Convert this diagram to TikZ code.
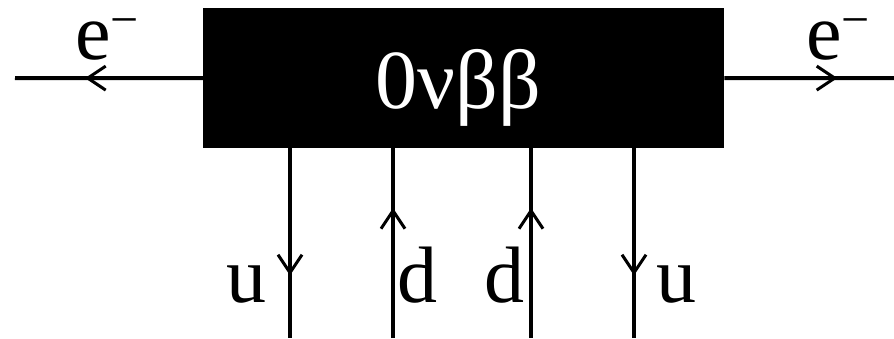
\documentclass[tikz,border=0pt]{standalone}
\usepackage{fontspec}
\setmainfont{Liberation Serif}
\newfontfamily\tnr{Liberation Serif}
\usetikzlibrary{arrows.meta,decorations.markings}
\newcommand{\eminus}{e\smash{\raisebox{23pt}{\fontsize{50}{50}\selectfont −}}}
\tikzset{
  big/.style={font=\tnr\fontsize{80}{80}\selectfont, inner sep=0pt},
  leg/.style={line width=4pt},
  chev/.tip={Straight Barb[length=18pt,width=24pt,line width=3pt]},
  flowat/.style={postaction={decorate},
    decoration={markings, mark=at position #1 with {\arrow{chev}}}}
}
\begin{document}
\begin{tikzpicture}[x=1pt,y=-1pt]
  \useasboundingbox (0,0) rectangle (894,338);
  % central vertex
  \node[fill=black, minimum width=521pt, minimum height=140pt, inner sep=0pt,
        anchor=north west] (box) at (203,8) {};
  \node[big, font=\tnr\fontsize{84}{84}\selectfont, text=white, anchor=base]
    (lbl) at (458.5,108) {0νββ};
  % external electron legs
  \coordinate (eL) at (15,78);
  \coordinate (eR) at (894,78);
  \draw[leg, flowat=118pt] (box.west) -- (eL);
  \draw[leg, flowat=113pt] (box.east) -- (eR);
  \node[big, anchor=base west, text height=40pt] (tL) at (75,59) {\eminus};
  \node[big, anchor=base west, text height=40pt] (tR) at (806,59) {\eminus};
  % quark legs
  \coordinate (q1) at (290,338);
  \coordinate (q2) at (393,338);
  \coordinate (q3) at (531,338);
  \coordinate (q4) at (634,338);
  \draw[leg, flowat=127pt] (q1 |- box.south) -- (q1);
  \draw[leg, flowat=130pt] (q2) -- (q2 |- box.south);
  \draw[leg, flowat=130pt] (q3) -- (q3 |- box.south);
  \draw[leg, flowat=127pt] (q4 |- box.south) -- (q4);
  \node[big, anchor=base west] (l1) at (226,302) {u};
  \node[big, anchor=base west] (l2) at (397,302) {d};
  \node[big, anchor=base west] (l3) at (484,302) {d};
  \node[big, anchor=base west] (l4) at (656,302) {u};
\end{tikzpicture}
\end{document}
